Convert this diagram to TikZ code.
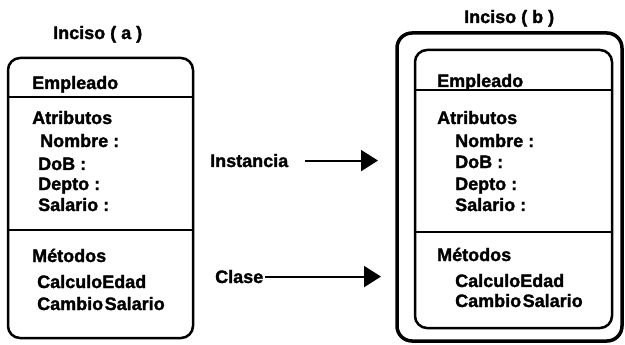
\documentclass[tikz,border=0pt]{standalone}
\usepackage{fontspec}
\setmainfont[BoldFeatures={FakeBold=1.6}]{Liberation Sans}
\usetikzlibrary{arrows.meta}

\begin{document}
\begin{tikzpicture}[x={(1pt,0pt)}, y={(0pt,-1pt)}]
        % Page frame, measured from the top left corner
        \useasboundingbox (0,0) rectangle (625,345);

        \tikzset{
            txt/.style={anchor=base west, inner sep=0pt,
                font=\bfseries\fontsize{18}{21}\selectfont},
            caja/.style={draw, line width=2.5pt, rounded corners=12pt},
            flecha/.style={line width=2pt, -{Triangle[length=17pt, width=21pt]}},
        }

        % Left class box
        \begin{scope}
            \coordinate (A1) at (8, 58);
            \coordinate (A2) at (193, 338);
            \draw[caja] (A1) rectangle (A2);
            \draw[line width=2pt] (8, 97) -- (193, 97);
            \draw[line width=2pt] (8, 230) -- (193, 230);

            \node[txt] (titA) at (53, 39) {Inciso ( a )};
            \node[txt] (empA) at (32, 89) {Empleado};
            \node[txt] (atrA) at (32, 124) {Atributos};
            \node[txt] (nomA) at (40, 147) {Nombre :};
            \node[txt] (dobA) at (38, 170) {DoB :};
            \node[txt] (depA) at (38, 190) {Depto :};
            \node[txt] (salA) at (38, 211) {Salario :};
            \node[txt] (metA) at (32, 262) {Métodos};
            \node[txt] (calA) at (37, 288) {CalculoEdad};
            \node[txt] (camA) at (37, 310) {Cambio\kern1.5pt Salario};
        \end{scope}

        % Right box: an instance drawn round its class
        \begin{scope}
            \coordinate (B1) at (397, 33);
            \coordinate (B2) at (622, 341);
            \coordinate (C1) at (415, 50);
            \coordinate (C2) at (612, 328);
            \draw[caja, line width=3.5pt, rounded corners=15pt] (B1) rectangle (B2);
            \draw[caja] (C1) rectangle (C2);
            \draw[line width=2pt] (415, 90) -- (612, 90);
            \draw[line width=2pt] (415, 232) -- (612, 232);

            \node[txt] (titB) at (464, 23) {Inciso ( b )};
            \node[txt] (empB) at (437, 87) {Empleado};
            \node[txt] (atrB) at (437, 124) {Atributos};
            \node[txt] (nomB) at (455, 147) {Nombre :};
            \node[txt] (dobB) at (455, 168) {DoB :};
            \node[txt] (depB) at (455, 190) {Depto :};
            \node[txt] (salB) at (455, 211) {Salario :};
            \node[txt] (metB) at (437, 261) {Métodos};
            \node[txt] (calB) at (455, 287) {CalculoEdad};
            \node[txt] (camB) at (455, 307) {Cambio\kern1.5pt Salario};
        \end{scope}

        % Labels and arrows in between
        \node[txt] (inst) at (210, 167) {Instancia};
        \node[txt] (clase) at (215, 283) {Clase};
        \coordinate (tipI) at (378, 0);
        \coordinate (tipC) at (381, 0);

        \draw[flecha, shorten <=17pt] (inst.east) -- (inst.east -| tipI);
        \draw[flecha, shorten <=1.5pt] (clase.east) -- (clase.east -| tipC);

\end{tikzpicture}
\end{document}
